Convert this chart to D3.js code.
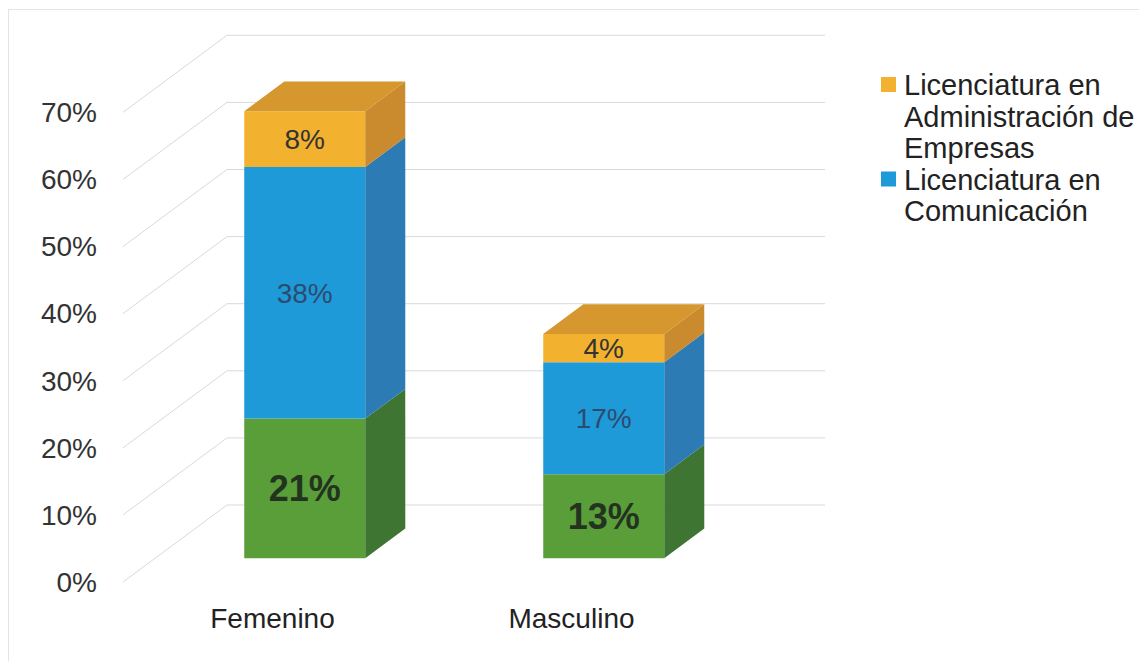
<!DOCTYPE html>
<html>
<head>
<meta charset="utf-8">
<script src="https://cdn.jsdelivr.net/npm/d3@7"></script>
<style>
  html, body { margin: 0; padding: 0; background: #fff; }
  svg { display: block; font-family: "Liberation Sans", Arial, sans-serif; }
</style>
</head>
<body>
<svg id="chart" width="1139" height="661"></svg>
<script>
// ---- data ----
const categories = ["Femenino", "Masculino"];
const seriesNames = ["Otra", "Licenciatura en Comunicación", "Licenciatura en Administración de Empresas"];
const greenValues = [20.8, 12.5];
const blueValues = [37.5, 16.7];
const orangeValues = [8.3, 4.2];
const yTicks = [0, 10, 20, 30, 40, 50, 60, 70];
const legendItems = [
  { key: 2, lines: ["Licenciatura en", "Administración de", "Empresas"] },
  { key: 1, lines: ["Licenciatura en", "Comunicación"] }
];

// ---- styles ----
const colors = [
  { front: "#5a9e3a", side: "#3e7533", top: "#4c8c37", label: "#24331f", size: 36, weight: "bold" },
  { front: "#1f9ad9", side: "#2d7bb4", top: "#2a86c4", label: "#2c4b6e", size: 28, weight: "normal" },
  { front: "#f2b12f", side: "#c98b2e", top: "#d6972f", label: "#333333", size: 28, weight: "normal" }
];

const svg = d3.select("#chart");
const font = "'Liberation Sans', Arial, sans-serif";

// frame
svg.append("rect").attr("x", 8.5).attr("y", 9.5).attr("width", 1200).attr("height", 700)
  .attr("fill", "none").attr("stroke", "#e4e4e4").attr("stroke-width", 1);

// geometry: oblique projection
const depthDX = 104, depthDY = -77;
const frontLeft = 123, frontRight = 721;
const y = d3.scaleLinear().domain([0, 70]).range([582, 582 - 469.7]);
const x = d3.scaleBand().domain(categories).range([frontLeft, frontRight]).paddingInner(0).paddingOuter(0);
const barFrontDepth = 0.31, barBackDepth = 0.695;
const barWidth = 121;

// gridlines: left wall diagonals + back wall horizontals
const grid = svg.append("g").attr("stroke", "#d9d9d9").attr("stroke-width", 1).attr("fill", "none");
yTicks.forEach(t => {
  const yf = y(t);
  grid.append("line").attr("x1", frontLeft).attr("y1", yf)
    .attr("x2", frontLeft + depthDX).attr("y2", yf + depthDY);
  grid.append("line").attr("x1", frontLeft + depthDX).attr("y1", yf + depthDY)
    .attr("x2", frontRight + depthDX).attr("y2", yf + depthDY);
});

// y axis labels
svg.append("g").selectAll("text").data(yTicks).join("text")
  .attr("x", 97).attr("y", d => y(d)).attr("dy", "0.35em")
  .attr("text-anchor", "end").attr("font-size", 28).attr("fill", "#333")
  .attr("font-family", font)
  .text(d => d + "%");

// category labels
svg.append("g").selectAll("text").data(categories).join("text")
  .attr("x", d => x(d) + x.bandwidth() / 2).attr("y", 628)
  .attr("text-anchor", "middle").attr("font-size", 28).attr("fill", "#222")
  .attr("font-family", font)
  .text(d => d);

// stacked 3D bars
const seriesValues = [greenValues, blueValues, orangeValues];
const bars = svg.append("g");
categories.forEach((cat, ci) => {
  const cx = x(cat) + x.bandwidth() / 2 + depthDX * barFrontDepth;
  const x0 = cx - barWidth / 2, x1 = cx + barWidth / 2;
  const fdy = depthDY * barFrontDepth;
  const bdx = depthDX * (barBackDepth - barFrontDepth);
  const bdy = depthDY * (barBackDepth - barFrontDepth);
  let base = 0;
  seriesValues.forEach((vals, si) => {
    const v = vals[ci];
    const yb = y(base) + fdy, yt = y(base + v) + fdy;
    const c = colors[si];
    const g = bars.append("g");
    g.append("path").attr("fill", c.front)
      .attr("d", `M${x0},${yb}L${x1},${yb}L${x1},${yt}L${x0},${yt}Z`);
    g.append("path").attr("fill", c.side)
      .attr("d", `M${x1},${yb}L${x1 + bdx},${yb + bdy}L${x1 + bdx},${yt + bdy}L${x1},${yt}Z`);
    if (si === seriesValues.length - 1) {
      g.append("path").attr("fill", c.top)
        .attr("d", `M${x0},${yt}L${x1},${yt}L${x1 + bdx},${yt + bdy}L${x0 + bdx},${yt + bdy}Z`);
    }
    g.append("text").attr("x", cx).attr("y", (yb + yt) / 2).attr("dy", "0.35em")
      .attr("text-anchor", "middle").attr("font-size", c.size).attr("font-weight", c.weight)
      .attr("fill", c.label).attr("font-family", font)
      .text(d3.format(".0f")(v) + "%");
    base += v;
  });
});

// legend
const legend = svg.append("g");
const lineH = 31.5;
let line = 0;
const baseY = 95;
legendItems.forEach(item => {
  const by = baseY + line * lineH;
  legend.append("rect").attr("x", 881).attr("y", by - 18).attr("width", 15).attr("height", 15)
    .attr("fill", colors[item.key].front);
  item.lines.forEach((t, i) => {
    legend.append("text").attr("x", 904).attr("y", by + i * lineH)
      .attr("font-size", 29).attr("fill", "#222").attr("font-family", font)
      .text(t);
  });
  line += item.lines.length;
});
</script>
</body>
</html>
